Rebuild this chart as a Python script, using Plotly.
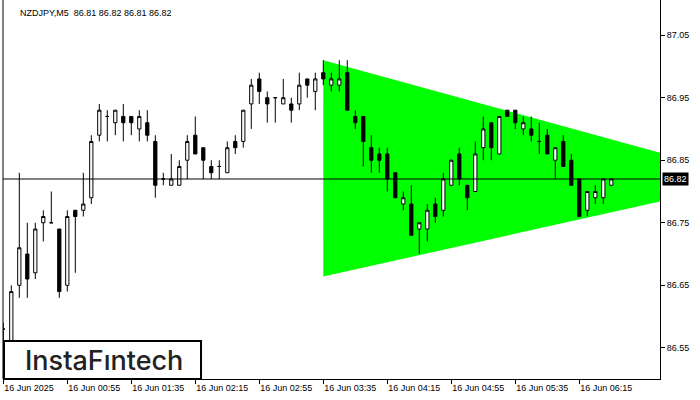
import plotly.graph_objects as go

# ---- data ----
bar_index = list(range(77))
opens = [86.58, 86.55, 86.65, 86.70, 86.67, 86.75, 86.75, 86.74, 86.65, 86.77,
         86.77, 86.79, 86.89, 86.92, 86.91, 86.92, 86.92, 86.90, 86.91, 86.88,
         86.82, 86.81, 86.81, 86.85, 86.89, 86.87, 86.84, 86.84, 86.83, 86.88,
         86.88, 86.94, 86.98, 86.95, 86.95, 86.94, 86.94, 86.94, 86.98, 86.96,
         86.99, 86.97, 86.97, 86.99, 86.92, 86.92, 86.87, 86.86, 86.86, 86.83,
         86.78, 86.78, 86.74, 86.74, 86.78, 86.77, 86.81, 86.86, 86.81, 86.80,
         86.87, 86.91, 86.86, 86.93, 86.93, 86.90, 86.90, 86.88, 86.89, 86.85,
         86.88, 86.85, 86.82, 86.77, 86.79, 86.79, 86.81]
highs = [86.59, 86.65, 86.83, 86.75, 86.75, 86.77, 86.80, 86.74, 86.77, 86.77,
         86.83, 86.89, 86.94, 86.93, 86.93, 86.94, 86.92, 86.93, 86.93, 86.89,
         86.83, 86.86, 86.85, 86.89, 86.92, 86.87, 86.85, 86.85, 86.88, 86.89,
         86.93, 86.98, 86.99, 86.96, 86.95, 86.98, 86.95, 86.99, 86.98, 86.99,
         87.01, 86.99, 87.01, 87.01, 86.93, 86.92, 86.89, 86.87, 86.87, 86.83,
         86.80, 86.81, 86.75, 86.78, 86.79, 86.83, 86.85, 86.87, 86.81, 86.88,
         86.92, 86.91, 86.92, 86.93, 86.93, 86.92, 86.92, 86.91, 86.90, 86.87,
         86.89, 86.86, 86.82, 86.80, 86.81, 86.82, 86.82]
lows = [86.55, 86.54, 86.63, 86.63, 86.66, 86.72, 86.75, 86.63, 86.64, 86.67,
        86.76, 86.78, 86.88, 86.88, 86.89, 86.88, 86.89, 86.88, 86.88, 86.79,
        86.81, 86.81, 86.81, 86.82, 86.86, 86.82, 86.82, 86.82, 86.83, 86.86,
        86.87, 86.90, 86.94, 86.91, 86.91, 86.94, 86.91, 86.93, 86.95, 86.93,
        86.97, 86.96, 86.96, 86.93, 86.90, 86.84, 86.83, 86.83, 86.80, 86.79,
        86.77, 86.73, 86.70, 86.72, 86.75, 86.76, 86.81, 86.81, 86.77, 86.80,
        86.85, 86.85, 86.86, 86.92, 86.90, 86.89, 86.88, 86.86, 86.86, 86.82,
        86.84, 86.81, 86.76, 86.76, 86.78, 86.78, 86.81]
closes = [86.58, 86.64, 86.71, 86.66, 86.74, 86.76, 86.75, 86.64, 86.76, 86.76,
          86.78, 86.88, 86.93, 86.92, 86.93, 86.91, 86.91, 86.92, 86.89, 86.81,
          86.82, 86.82, 86.84, 86.88, 86.86, 86.85, 86.83, 86.84, 86.87, 86.87,
          86.93, 86.97, 86.96, 86.94, 86.95, 86.95, 86.93, 86.97, 86.97, 86.98,
          86.98, 86.98, 86.98, 86.93, 86.91, 86.88, 86.85, 86.85, 86.82, 86.79,
          86.79, 86.73, 86.75, 86.77, 86.76, 86.82, 86.85, 86.82, 86.79, 86.86,
          86.90, 86.87, 86.92, 86.92, 86.91, 86.91, 86.89, 86.88, 86.86, 86.87,
          86.84, 86.81, 86.76, 86.80, 86.80, 86.82, 86.82]

# triangle pattern (bar index, price)
tri_x = [40, 40, 94.3]
tri_y = [87.01, 86.664, 86.819]

x_tickvals = [0, 8, 16, 24, 32, 40, 48, 56, 64, 72]
x_ticktext = ["16 Jun 2025", "16 Jun 00:55", "16 Jun 01:35", "16 Jun 02:15",
              "16 Jun 02:55", "16 Jun 03:35", "16 Jun 04:15", "16 Jun 04:55",
              "16 Jun 05:35", "16 Jun 06:15"]
y_tickvals = [86.55, 86.65, 86.75, 86.85, 86.95, 87.05]
y_ticktext = ["86.55", "86.65", "86.75", "86.85", "86.95", "87.05"]

symbol = "NZDJPY,M5"
last_price = closes[-1]
title_text = f"{symbol}  {opens[-1]:.2f} {highs[-1]:.2f} {lows[-1]:.2f} {closes[-1]:.2f}"

FONT = "Liberation Sans, Arial, sans-serif"

fig = go.Figure()

fig.add_trace(go.Candlestick(
    x=bar_index, open=opens, high=highs, low=lows, close=closes,
    increasing=dict(fillcolor="#FFFFFF", line=dict(color="#000000", width=1)),
    decreasing=dict(fillcolor="#000000", line=dict(color="#000000", width=1)),
    whiskerwidth=0, showlegend=False, hoverinfo="skip"))

# triangle drawn beneath the candles, clipped to the plot area
tri_path = "M " + " L ".join(f"{x},{y}" for x, y in zip(tri_x, tri_y)) + " Z"
fig.add_shape(type="path", xref="x", yref="y", path=tri_path,
              fillcolor="#00FF00", line=dict(width=0), layer="below")

fig.update_layout(
    width=700, height=400,
    margin=dict(l=3, r=40, t=0, b=21, autoexpand=False),
    paper_bgcolor="#FFFFFF", plot_bgcolor="#FFFFFF",
    boxgap=0.42,
    font=dict(family=FONT, size=9, color="#000000"),
    showlegend=False,
    xaxis=dict(
        range=[-0.0375, 82.09], rangeslider=dict(visible=False),
        tickvals=x_tickvals, ticktext=x_ticktext,
        ticks="outside", ticklen=4, tickcolor="#000000",
        ticklabelposition="outside right",
        showgrid=False, zeroline=False, automargin=False,
        showline=True, linecolor="#000000", linewidth=1,
        tickfont=dict(family=FONT, size=9, color="#000000")),
    yaxis=dict(
        range=[86.5002, 87.1062], side="right",
        tickvals=y_tickvals, ticktext=y_ticktext,
        ticks="outside", ticklen=4, tickcolor="#000000",
        showgrid=False, zeroline=False, automargin=False,
        showline=True, linecolor="#000000", linewidth=1,
        tickfont=dict(family=FONT, size=9, color="#000000")),
)

# left frame line
fig.add_shape(type="line", xref="paper", yref="paper", x0=0, x1=0, y0=0, y1=1,
              line=dict(color="#000000", width=1))
# current price line
fig.add_shape(type="line", xref="paper", yref="y", x0=0, x1=1,
              y0=last_price, y1=last_price, line=dict(color="#000000", width=1))

# current price label on the axis
fig.add_annotation(xref="paper", yref="y", x=1, y=last_price, xanchor="left",
                   xshift=2, text=f"{last_price:.2f}", showarrow=False,
                   bgcolor="#000000", font=dict(family=FONT, size=9, color="#FFFFFF"),
                   borderpad=1)

# title
fig.add_annotation(xref="paper", yref="paper", x=0, y=1, xanchor="left", yanchor="top",
                   xshift=15, yshift=-6, text=title_text, showarrow=False,
                   font=dict(family=FONT, size=9, color="#000000"))

# logo box
fig.add_shape(type="rect", xref="paper", yref="paper", x0=0.0015, x1=0.3014,
              y0=0.0, y1=0.1003, fillcolor="#FFFFFF",
              line=dict(color="#000000", width=2), layer="above")
fig.add_annotation(xref="paper", yref="paper", x=0.154, y=0.05,
                   xanchor="center", yanchor="middle",
                   text="InstaF\u0131ntech", showarrow=False,
                   font=dict(family="Inter, sans-serif", size=27, color="#222222", weight=500))

fig.write_html("out.html", config={"displayModeBar": False, "staticPlot": True},
               post_script="document.body.style.margin='0';")
